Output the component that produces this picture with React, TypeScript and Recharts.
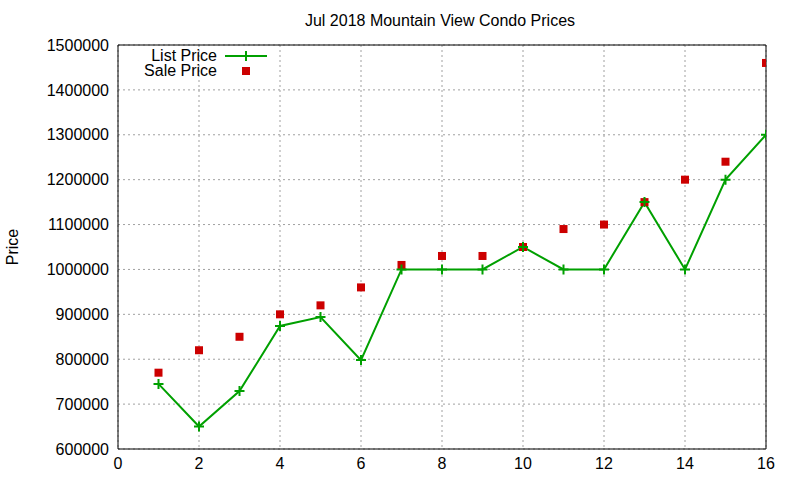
import React from 'react';
import {
    ComposedChart, Line, Scatter, XAxis, YAxis, CartesianGrid, Legend
} from 'recharts';

const months = [1, 2, 3, 4, 5, 6, 7, 8, 9, 10, 11, 12, 13, 14, 15, 16];
const listPrices = [745000, 650000, 729000, 874000, 894000, 798000, 1000000, 1000000, 1000000, 1050000, 1000000, 1000000, 1150000, 1000000, 1200000, 1300000];
const salePrices = [770000, 820000, 850000, 900000, 920000, 960000, 1010000, 1030000, 1030000, 1050000, 1090000, 1100000, 1150000, 1200000, 1240000, 1460000];
const xTicks = [0, 2, 4, 6, 8, 10, 12, 14, 16];
const yTicks = [600000, 700000, 800000, 900000, 1000000, 1100000, 1200000, 1300000, 1400000, 1500000];

const data = months.map((m, i) => ({ x: m, list: listPrices[i], sale: salePrices[i] }));

const GREEN = '#00a000';
const RED = '#cc0000';
const FONT = '"Liberation Sans", Arial, sans-serif';

const PlusDot = (props: any) => {
    const { cx, cy, index } = props;
    if (cx == null || cy == null) return <g key={index} />;
    return (
        <path
            key={index}
            d={`M${cx - 5},${cy}H${cx + 5}M${cx},${cy - 5}V${cy + 5}`}
            stroke={GREEN}
            strokeWidth={2}
            fill="none"
        />
    );
};

const SquareDot = (props: any) => {
    const { cx, cy } = props;
    return <rect x={cx - 4} y={cy - 4} width={8} height={8} fill={RED} />;
};

const LegendBox = () => (
    <svg width={180} height={34} style={{ display: 'block', fontFamily: FONT }}>
        <text x={117} y={9} textAnchor="end" dominantBaseline="central" fontSize={16} fill="#000">List Price</text>
        <line x1={125} x2={167} y1={10} y2={10} stroke={GREEN} strokeWidth={2} />
        <path d="M146,5V15" stroke={GREEN} strokeWidth={2} />
        <text x={117} y={24} textAnchor="end" dominantBaseline="central" fontSize={16} fill="#000">Sale Price</text>
        <rect x={142} y={21} width={8} height={8} fill={RED} />
    </svg>
);

const PriceLabel = () => (
    <text
        x={12}
        y={247}
        transform="rotate(-90 12 247)"
        textAnchor="middle"
        dominantBaseline="central"
        fontSize={16}
        fill="#000"
        fontFamily={FONT}
    >
        Price
    </text>
);

const App: React.FC = () => {
    const tickStyle = { fill: '#000', fontSize: 16, fontFamily: FONT };
    return (
        <div style={{ position: 'absolute', left: 0, top: 0, width: 800, height: 480, background: '#fff' }}>
            <div
                style={{
                    position: 'absolute', left: 240, top: 12, width: 400, textAlign: 'center',
                    fontFamily: FONT, fontSize: 16, lineHeight: '18px', color: '#000'
                }}
            >
                Jul 2018 Mountain View Condo Prices
            </div>
            <ComposedChart
                width={800}
                height={480}
                data={data}
                margin={{ top: 45, right: 34, bottom: 0, left: 0 }}
            >
                <CartesianGrid stroke="#a0a0a0" strokeDasharray="2 3" />
                <XAxis
                    dataKey="x"
                    type="number"
                    domain={[0, 16]}
                    ticks={xTicks}
                    height={31}
                    tickLine={false}
                    tickSize={0}
                    tickMargin={9}
                    axisLine={{ stroke: '#000' }}
                    tick={tickStyle}
                    allowDataOverflow
                />
                <XAxis xAxisId="bottomTicks" type="number" domain={[0, 16]} ticks={xTicks}
                    mirror tick={false} axisLine={false} tickSize={6} tickLine={{ stroke: '#000' }} allowDataOverflow />
                <XAxis xAxisId="top" orientation="top" type="number" domain={[0, 16]} ticks={xTicks}
                    mirror tick={false} axisLine={{ stroke: '#000' }} tickSize={6} tickLine={{ stroke: '#000' }} allowDataOverflow />
                <YAxis
                    type="number"
                    domain={[600000, 1500000]}
                    ticks={yTicks}
                    width={118}
                    tickLine={false}
                    tickSize={0}
                    tickMargin={9}
                    axisLine={{ stroke: '#000' }}
                    tick={tickStyle}
                    label={{ content: () => <PriceLabel /> }}
                    allowDataOverflow
                />
                <YAxis yAxisId="leftTicks" type="number" domain={[600000, 1500000]} ticks={yTicks}
                    mirror tick={false} axisLine={false} tickSize={6} tickLine={{ stroke: '#000' }} allowDataOverflow />
                <YAxis yAxisId="right" orientation="right" type="number" domain={[600000, 1500000]} ticks={yTicks}
                    mirror tick={false} axisLine={{ stroke: '#000' }} tickSize={6} tickLine={{ stroke: '#000' }} allowDataOverflow />
                <Legend
                    layout="vertical"
                    align="center"
                    verticalAlign="middle"
                    wrapperStyle={{ left: 100, top: 46, width: 180, height: 34 }}
                    content={() => <LegendBox />}
                />
                <Line
                    dataKey="list"
                    name="List Price"
                    stroke={GREEN}
                    strokeWidth={2}
                    dot={(p: any) => <PlusDot {...p} key={p.index} />}
                    activeDot={false}
                    isAnimationActive={false}
                />
                <Scatter
                    dataKey="sale"
                    name="Sale Price"
                    shape={(p: any) => <SquareDot {...p} />}
                    isAnimationActive={false}
                />
            </ComposedChart>
        </div>
    );
};

export default App;
